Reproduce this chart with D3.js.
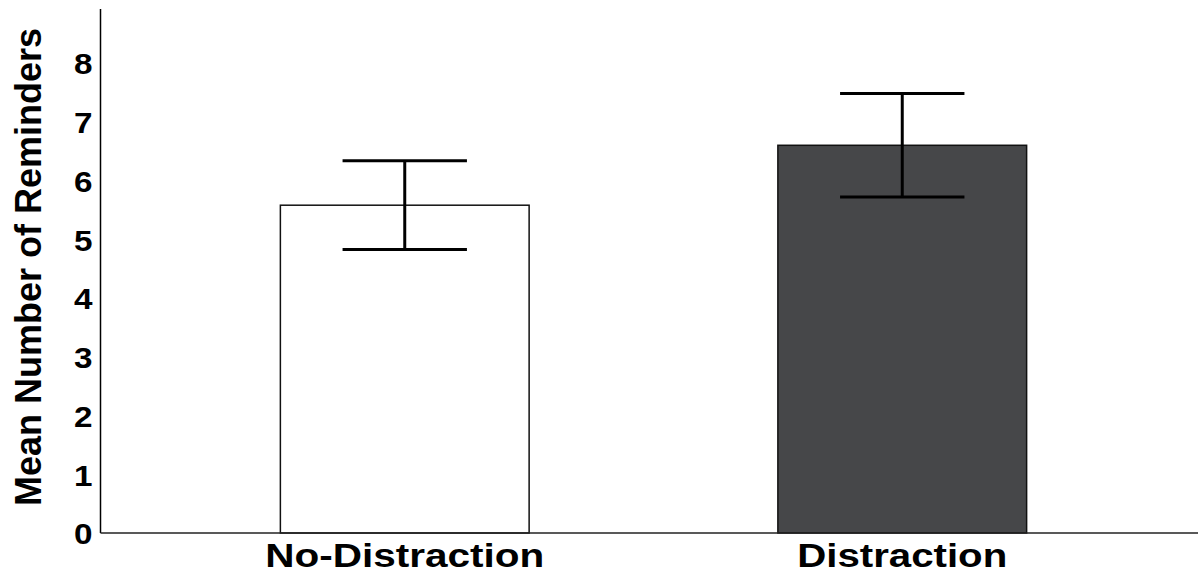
<!DOCTYPE html>
<html>
<head>
<meta charset="utf-8">
<script src="https://cdn.jsdelivr.net/npm/d3@7"></script>
<style>
  html, body { margin: 0; padding: 0; background: #fff; }
  svg { display: block; }
  text { font-family: "Liberation Sans", Arial, sans-serif; font-weight: bold; fill: #000; }
</style>
</head>
<body>
<svg id="chart" width="1198" height="576"></svg>
<script>
// Conditions, mean reminders and error half-widths
const categories = ["No-Distraction", "Distraction"];
const means = [5.58, 6.60];
const errors = [0.755, 0.88];
const barFills = ["#ffffff", "#464749"];
const yTicks = [0, 1, 2, 3, 4, 5, 6, 7, 8];
const yTitle = "Mean Number of Reminders";

const svg = d3.select("#chart");
const axisLeftX = 100.5, axisBottomY = 533, axisTopY = 9, axisRightX = 1198;

const y = d3.scaleLinear().domain([0, 8.92]).range([axisBottomY, axisTopY]);
const x = d3.scaleBand()
  .domain(categories)
  .range([156, 1151])
  .paddingInner(0.5)
  .paddingOuter(0.25);

// Bars
svg.append("g").selectAll("rect")
  .data(categories)
  .join("rect")
  .attr("x", d => x(d))
  .attr("y", (d, i) => y(means[i]))
  .attr("width", x.bandwidth())
  .attr("height", (d, i) => y(0) - y(means[i]))
  .attr("fill", (d, i) => barFills[i])
  .attr("stroke", "#111")
  .attr("stroke-width", 1.5);

// Error bars
const capHalf = x.bandwidth() / 4;
const eb = svg.append("g").attr("stroke", "#000").attr("stroke-width", 3).attr("fill", "none");
categories.forEach((c, i) => {
  const cx = x(c) + x.bandwidth() / 2;
  const hi = y(means[i] + errors[i]);
  const lo = y(means[i] - errors[i]);
  eb.append("line").attr("x1", cx).attr("x2", cx).attr("y1", hi).attr("y2", lo);
  eb.append("line").attr("x1", cx - capHalf).attr("x2", cx + capHalf).attr("y1", hi).attr("y2", hi);
  eb.append("line").attr("x1", cx - capHalf).attr("x2", cx + capHalf).attr("y1", lo).attr("y2", lo);
});

// Y axis
const yAxis = svg.append("g")
  .attr("transform", `translate(${axisLeftX},0)`)
  .call(d3.axisLeft(y).tickValues(yTicks).tickSize(0).tickPadding(8).tickFormat(d3.format("d")));
yAxis.select(".domain").remove();
yAxis.selectAll("text")
  .style("font-size", "30px")
  .style("font-family", "'Liberation Sans', Arial, sans-serif")
  .style("font-weight", "bold")
  .attr("fill", "#000")
  .attr("dy", "0.36em")
  .attr("textLength", 18.5)
  .attr("lengthAdjust", "spacingAndGlyphs");
svg.append("line")
  .attr("x1", axisLeftX).attr("x2", axisLeftX)
  .attr("y1", axisTopY).attr("y2", axisBottomY)
  .attr("stroke", "#000").attr("stroke-width", 1.5);

// X axis
svg.append("line")
  .attr("x1", axisLeftX).attr("x2", axisRightX)
  .attr("y1", axisBottomY).attr("y2", axisBottomY)
  .attr("stroke", "#222").attr("stroke-width", 1.5);

const xLabelWidths = [279, 210];
svg.append("g").selectAll("text")
  .data(categories)
  .join("text")
  .attr("x", d => x(d) + x.bandwidth() / 2)
  .attr("y", 567)
  .attr("text-anchor", "middle")
  .style("font-size", "33px")
  .attr("textLength", (d, i) => xLabelWidths[i])
  .attr("lengthAdjust", "spacingAndGlyphs")
  .text(d => d);

// Y title
svg.append("text")
  .attr("transform", "translate(41,267) rotate(-90)")
  .attr("text-anchor", "middle")
  .style("font-size", "36px")
  .text(yTitle);
</script>
</body>
</html>
